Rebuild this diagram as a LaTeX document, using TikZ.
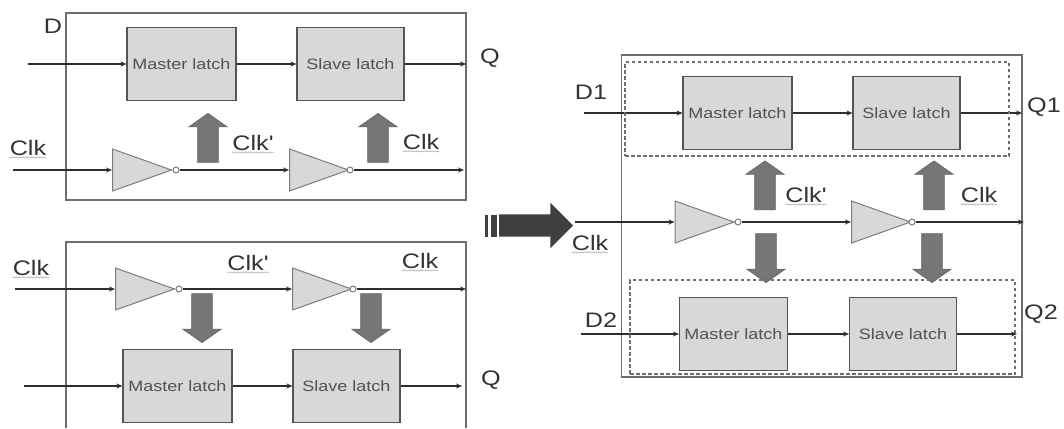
\documentclass[tikz,border=0pt]{standalone}
\usepackage{fontspec}
\setmainfont{Liberation Sans}
\newfontfamily\latchfont[FakeStretch=1.2]{Liberation Sans}
\newfontfamily\sigfont[FakeStretch=1.2]{Liberation Sans}
\usetikzlibrary{arrows.meta,shapes.geometric,shapes.arrows,decorations.pathmorphing}
\definecolor{boxline}{HTML}{6E6E6E}
\definecolor{latchfill}{HTML}{D8D8D8}
\definecolor{latchline}{HTML}{555555}
\definecolor{invline}{HTML}{7C7C7C}
\definecolor{blockfill}{HTML}{767676}
\definecolor{wireline}{HTML}{2E2E2E}
\definecolor{labelink}{HTML}{333333}
\tikzset{
  x=1pt,y=-1pt,
  frame/.style={draw=boxline,line width=1.5pt,fill=none},
  groupbox/.style={draw=boxline,line width=1.2pt,dash pattern=on 3.5pt off 2.5pt},
  latch/.style={rectangle,draw=latchline,line width=1.1pt,fill=latchfill,inner sep=0pt,
    minimum height=73pt,text=black!68,font=\latchfont\fontsize{15}{17}\selectfont},
  inverter/.style={isosceles triangle,isosceles triangle stretches,shape border rotate=0,
    draw=invline,line width=1pt,fill=latchfill,inner sep=0pt,anchor=lower side,
    minimum width=42pt,minimum height=59pt},
  bubble/.style={circle,draw=invline,line width=1pt,fill=white,inner sep=0pt,minimum size=6pt},
  wire/.style={draw=wireline,line width=1.2pt,-{Stealth[length=6pt,width=5pt]}},
  blockup/.style={single arrow,draw=boxline!90!black,line width=.6pt,fill=blockfill,inner sep=10pt,
    minimum width=38pt,minimum height=49pt,single arrow head extend=9pt,
    single arrow tip angle=110,shape border rotate=90},
  blockdown/.style={blockup,shape border rotate=270},
  sig/.style={inner sep=0pt,text=labelink,font=\sigfont\fontsize{21}{23}\selectfont},
  clklabel/.style={sig},
  squiggle/.style={draw=black!35,line width=.5pt,decorate,
    decoration={snake,amplitude=.6pt,segment length=3pt}},
  bars/.style={fill=black!75,draw=none}
}
\begin{document}
\begin{tikzpicture}
\useasboundingbox (0,0) rectangle (1064,428);
\fill[white] (0,0) rectangle (1064,428);

% ---- top-left flip-flop
\node[frame,rectangle,inner sep=0pt,minimum width=400pt,minimum height=187pt] (tlbox) at (266,106.5) {};
\node[latch,minimum width=109pt] (tlm) at (181.5,64) {Master latch};
\node[latch,minimum width=107pt] (tls) at (350.5,64) {Slave latch};
\coordinate (tld) at (28,64);
\coordinate (tlo) at (466,64);
\draw[wire] (tld) -- (tlm);
\draw[wire] (tlm) -- (tls);
\draw[wire] (tls) -- (tlo);
\node[inverter] (tli1) at (112,170) {};
\node[bubble] (tlb1) at (176,170) {};
\node[inverter] (tli2) at (289,170) {};
\node[bubble] (tlb2) at (350,170) {};
\coordinate (tlc) at (13,170);
\coordinate (tlco) at (464,170);
\draw[wire] (tlc) -- (tli1.lower side);
\draw[wire] (tlb1) -- (tli2.lower side);
\draw[wire] (tlb2) -- (tlco);
\node[blockup] (tlu1) at (208,141.5) {};
\node[blockup] (tlu2) at (378,141.5) {};
\node[sig] (tld1) at (53,26) {D};
\node[sig] (tlq) at (490,58) {Q};
\node[clklabel] (tlk0) at (28,148) {Clk};
\node[clklabel] (tlk1) at (253,143) {Clk'};
\node[clklabel] (tlk2) at (421,142) {Clk};

% ---- bottom-left flip-flop
\draw[frame] (66,428) -- (66,242) -- (466,242) -- (466,428);
\node[latch,minimum width=109pt] (blm) at (177.5,386) {Master latch};
\node[latch,minimum width=107pt] (bls) at (346.5,386) {Slave latch};
\coordinate (bld) at (24,386);
\coordinate (blo) at (462,386);
\draw[wire] (bld) -- (blm);
\draw[wire] (blm) -- (bls);
\draw[wire] (bls) -- (blo);
\node[inverter] (bli1) at (115,289) {};
\node[bubble] (blb1) at (179,289) {};
\node[inverter] (bli2) at (292,289) {};
\node[bubble] (blb2) at (353,289) {};
\coordinate (blc) at (15,289);
\coordinate (blco) at (466,289);
\draw[wire] (blc) -- (bli1.lower side);
\draw[wire] (blb1) -- (bli2.lower side);
\draw[wire] (blb2) -- (blco);
\node[blockdown] (bld1) at (202,314.5) {};
\node[blockdown] (bld2) at (371,314.5) {};
\node[clklabel] (blk0) at (31,268) {Clk};
\node[clklabel] (blk1) at (248,263) {Clk'};
\node[clklabel] (blk2) at (420,261) {Clk};
\node[sig] (blq) at (491,380) {Q};

% ---- big arrow between the halves
\node[single arrow,fill=black!75,draw=none,inner sep=11pt,minimum width=45pt,minimum height=74pt,
  single arrow head extend=11.5pt,single arrow tip angle=90] (bigarrow) at (530.5,225.5) {};
\path[bars] (484.5,215) rectangle (488,237);
\path[bars] (491,215) rectangle (496.5,237);

% ---- right-hand dual-output circuit
\node[frame,rectangle,inner sep=0pt,minimum width=400.5pt,minimum height=322pt] (rbox) at (821.75,216) {};
\node[latch,minimum width=109pt] (rm1) at (737.5,113) {Master latch};
\node[latch,minimum width=107pt] (rs1) at (906.5,113) {Slave latch};
\coordinate (rd1) at (584,113);
\coordinate (rq1) at (1022,113);
\draw[wire] (rd1) -- (rm1);
\draw[wire] (rm1) -- (rs1);
\draw[wire] (rs1) -- (rq1);

\node[inverter] (ri1) at (674.5,222) {};
\node[bubble] (rb1) at (738,222) {};
\node[inverter] (ri2) at (851,222) {};
\node[bubble] (rb2) at (912,222) {};
\coordinate (rc) at (575,222);
\coordinate (rco) at (1024,222);
\draw[wire] (rc) -- (ri1.lower side);
\draw[wire] (rb1) -- (ri2.lower side);
\draw[wire] (rb2) -- (rco);

\node[blockup] (ru1) at (765,189) {};
\node[blockup] (ru2) at (934,189) {};
\node[blockdown] (rdn1) at (766,254.5) {};
\node[blockdown] (rdn2) at (932,254.5) {};

\node[latch,minimum width=108pt] (rm2) at (733.5,334) {Master latch};
\node[latch,minimum width=107pt] (rs2) at (903,334) {Slave latch};
\coordinate (rd2) at (581,334);
\coordinate (rq2) at (1017,334);
\draw[wire] (rd2) -- (rm2);
\draw[wire] (rm2) -- (rs2);
\draw[wire] (rs2) -- (rq2);

\node[groupbox,rectangle,inner sep=0pt,minimum width=384pt,minimum height=94pt] (rg1) at (817,109) {};
\node[groupbox,rectangle,inner sep=0pt,minimum width=385pt,minimum height=94pt] (rg2) at (822.5,327) {};

\node[sig] (rd1l) at (591,92) {D1};
\node[sig] (rq1l) at (1044,107) {Q1};
\node[sig] (rd2l) at (601,320) {D2};
\node[sig] (rq2l) at (1041,314) {Q2};
\node[clklabel] (rk0) at (590,243) {Clk};
\node[clklabel] (rk1) at (806,195) {Clk'};
\node[clklabel] (rk2) at (979,195) {Clk};

% ---- spell-check underlines under every Clk
\foreach \n in {tlk0,tlk1,tlk2,blk0,blk1,blk2,rk0,rk1,rk2}{
  \draw[squiggle] ([yshift=-1.5pt]\n.south west) -- ([yshift=-1.5pt]\n.south east);
}
\end{tikzpicture}
\end{document}
